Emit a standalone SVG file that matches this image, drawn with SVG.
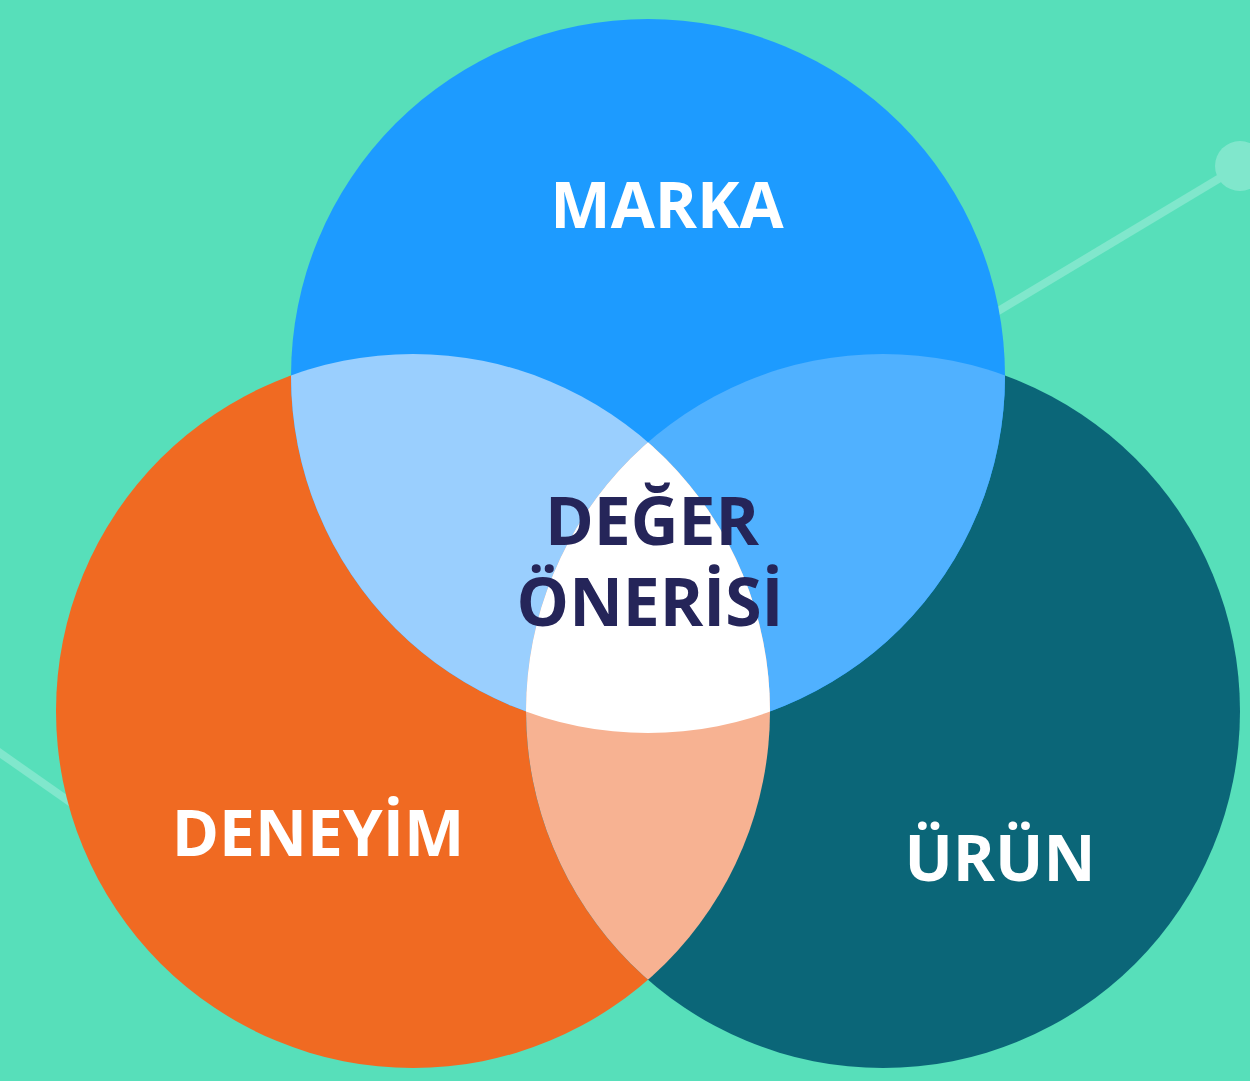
<svg xmlns="http://www.w3.org/2000/svg" width="1250" height="1081" viewBox="0 0 1250 1081">
  <style>
    .lbl { font-family: "Open Sans", "Liberation Sans", sans-serif; font-weight: 700; font-size: 64px; text-anchor: middle; }
    .c { font-size: 66px; }
    .w { fill: #FFFFFF; }
    .n { fill: #252559; }
    .deco { stroke: #80E7CC; stroke-width: 8; fill: none; }
  </style>
  <defs>
    <clipPath id="cBlue"><circle cx="648" cy="376" r="357"/></clipPath>
    <clipPath id="cOrange"><circle cx="413" cy="711" r="357"/></clipPath>
    <clipPath id="cTeal"><circle cx="883" cy="711" r="357"/></clipPath>
  </defs>
  <rect x="0" y="0" width="1250" height="1081" fill="#57DFBA"/>
  <g id="background-decor">
    <line class="deco" x1="1240" y1="166" x2="900" y2="370"/>
    <circle cx="1240" cy="166" r="25" fill="#80E7CC"/>
    <line class="deco" x1="-10" y1="746" x2="200" y2="893"/>
  </g>
  <g id="node-deneyim">
    <circle cx="413" cy="711" r="357" fill="#F06A22"/>
  </g>
  <g id="node-urun">
    <circle cx="883" cy="711" r="357" fill="#0B6678"/>
  </g>
  <g id="node-marka">
    <circle cx="648" cy="376" r="357" fill="#1D9BFF"/>
  </g>
  <g id="overlaps">
    <g clip-path="url(#cBlue)">
      <circle cx="413" cy="711" r="357" fill="#9ACFFE"/>
      <circle cx="883" cy="711" r="357" fill="#50B1FF"/>
    </g>
    <g clip-path="url(#cOrange)">
      <circle cx="883" cy="711" r="357" fill="#F7B292"/>
    </g>
    <g clip-path="url(#cOrange)">
      <g clip-path="url(#cTeal)">
        <circle cx="648" cy="376" r="357" fill="#FFFFFF"/>
      </g>
    </g>
  </g>
  <g id="labels">
    <text class="lbl w" x="667" y="228">MARKA</text>
    <text class="lbl w" x="318" y="856">DENEYİM</text>
    <text class="lbl w" x="1000" y="881">ÜRÜN</text>
    <text class="lbl c n" x="652" y="545">DEĞER</text>
    <text class="lbl c n" x="650" y="626">ÖNERİSİ</text>
  </g>
</svg>
